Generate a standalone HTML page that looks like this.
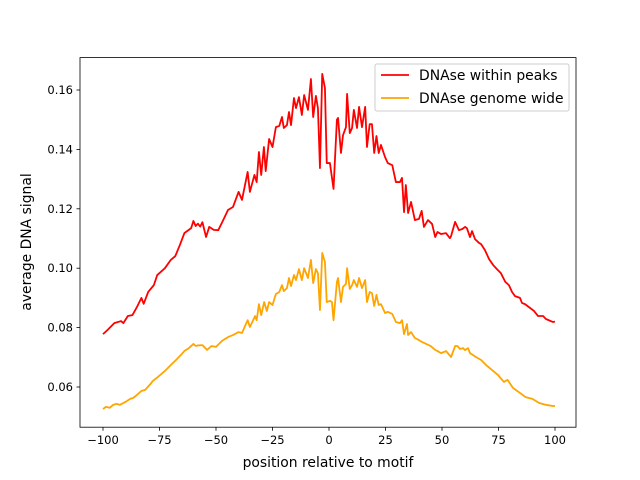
<!DOCTYPE html>
<html><head><meta charset="utf-8"><style>
body{margin:0;background:#fff}
svg{display:block;font-family:"DejaVu Sans","Liberation Sans",sans-serif}
</style></head><body>
<svg id="chart" width="640" height="480">
<rect x="0" y="0" width="640" height="480" fill="#fff"/>
<g id="plot"></g>
<rect x="80" y="57.6" width="496" height="369.6" fill="none" stroke="#000" stroke-width="0.8"/>
<g id="axes"></g>
<text x="328" y="467" font-size="13.9" text-anchor="middle">position relative to motif</text>
<text x="0" y="0" font-size="13.9" text-anchor="middle" transform="translate(31,242) rotate(-90)">average DNA signal</text>
<g>
<rect x="375" y="64" width="194" height="47" rx="2" fill="#fff" fill-opacity="0.8" stroke="#ccc" stroke-width="1"/>
<line x1="381" y1="75" x2="409" y2="75" stroke="#ff0000" stroke-width="1.8"/>
<text x="419" y="80" font-size="13.9">DNAse within peaks</text>
<line x1="381" y1="98" x2="409" y2="98" stroke="#ffa500" stroke-width="1.8"/>
<text x="419" y="103" font-size="13.9">DNAse genome wide</text>
</g>
</svg>
<script>
const xTicks=[-100,-75,-50,-25,0,25,50,75,100];
const yTicks=[0.06,0.08,0.10,0.12,0.14,0.16];
const yTickLabels=["0.06","0.08","0.10","0.12","0.14","0.16"];
const posRed=[-100,-98,-95,-92,-91,-89,-87,-85,-83,-82,-80,-77.5,-76,-72.6,-70,-68,-66,-64,-61,-60,-59,-58,-57,-56,-54.4,-53,-51,-49,-47,-44.7,-42.5,-40,-38.5,-36,-35,-33,-32,-31,-30,-28.8,-28,-26.5,-25,-23.5,-22,-20.8,-20,-18.6,-17.7,-16.8,-15.5,-14.6,-13.3,-12,-11,-9.3,-8,-7,-5.8,-4.9,-4,-3,-1.8,-1,0.4,2,3.5,4,5.3,6.2,7.5,8,9.2,10.2,11,12.4,13.3,14.6,16,16.8,18,19,20,21,22,23,24.8,26,28,29.6,31.4,32.3,33.2,34,35,36.3,38,39.8,41,42,43.8,45.6,47,48,49.6,51.8,53.5,54,55.8,57.5,59,60.2,61,62.4,63.3,64.6,66.4,67.3,69,70.8,72.6,74.3,76,78,79.6,81,82.3,84.5,85.4,86.7,89,90.7,92.5,94.7,96,99,100];
const valRed=[0.0778,0.0792,0.0815,0.0822,0.0815,0.0839,0.0842,0.0869,0.090,0.088,0.092,0.0943,0.0977,0.100,0.1028,0.1041,0.1078,0.1118,0.1135,0.1159,0.1142,0.115,0.114,0.1155,0.1105,0.1139,0.1129,0.1128,0.1159,0.1196,0.1206,0.1257,0.123,0.1324,0.1257,0.1314,0.129,0.1391,0.1314,0.1408,0.1327,0.1435,0.1408,0.1475,0.1479,0.1509,0.1472,0.1482,0.1526,0.1482,0.1573,0.1539,0.1576,0.1516,0.1583,0.1533,0.1637,0.1509,0.158,0.1539,0.1337,0.1654,0.1607,0.1354,0.1354,0.1267,0.150,0.1506,0.1388,0.1448,0.1475,0.1587,0.1455,0.1472,0.1533,0.1472,0.1543,0.1475,0.1543,0.1408,0.1485,0.1485,0.1388,0.1445,0.1388,0.1415,0.1374,0.1354,0.1347,0.129,0.129,0.1304,0.1189,0.128,0.1186,0.1223,0.1162,0.1166,0.1193,0.1139,0.1162,0.1149,0.1105,0.1122,0.1115,0.1118,0.1101,0.1108,0.1156,0.1128,0.1132,0.1139,0.1135,0.1105,0.1125,0.1098,0.1085,0.1081,0.1061,0.1031,0.1011,0.0997,0.0984,0.0954,0.0943,0.092,0.0906,0.090,0.0883,0.0879,0.0866,0.0856,0.0839,0.0839,0.0829,0.0819,0.0820];
const posOrange=[-100,-98.7,-97,-95.5,-94,-92.5,-90,-88,-86.7,-85,-83,-81.4,-79,-78,-75.7,-72.6,-70,-67.7,-65.5,-64,-62,-60,-59,-58,-56,-54,-52,-50,-47.4,-44.7,-42.5,-40,-38.5,-36,-35,-32.7,-32,-31,-30,-28.7,-27.5,-26.5,-25,-23.5,-22,-20.8,-20,-18.6,-17.7,-16.8,-15.5,-14.6,-13.3,-12,-11,-9.3,-8,-7,-5.8,-4.9,-4,-3,-1.8,-1,0.4,1.3,2,3.5,4,5.3,6.2,7.5,8,9.2,10.2,11,12.4,13.3,14.6,16,16.8,18,19,20,21,22,23,24.8,26,28,29.6,31.4,32.3,33.2,34.5,35,36.3,38,39.8,41,43,45,47,48,49.6,51.8,54,55.8,56.8,58,59.3,60.2,61.5,62.4,65,67.3,69.5,71.7,74.8,77.4,79,81.4,84.5,87,90,93,96,99,100];
const valOrange=[0.0526,0.0533,0.053,0.054,0.0543,0.054,0.055,0.056,0.0563,0.0573,0.0587,0.059,0.061,0.062,0.0634,0.0654,0.0674,0.0691,0.0708,0.0721,0.0731,0.0745,0.0738,0.074,0.0741,0.0725,0.0738,0.0735,0.0755,0.0768,0.0775,0.0785,0.0782,0.0825,0.0802,0.0839,0.0825,0.0879,0.0842,0.0886,0.0856,0.0886,0.0876,0.0913,0.092,0.0943,0.0923,0.0933,0.0967,0.094,0.0977,0.096,0.0997,0.096,0.100,0.0967,0.1028,0.095,0.0997,0.0983,0.0859,0.1051,0.1021,0.0886,0.089,0.0886,0.0825,0.0953,0.0967,0.0886,0.0937,0.0947,0.100,0.093,0.0943,0.096,0.0937,0.0967,0.0933,0.096,0.0886,0.092,0.0916,0.0873,0.091,0.0876,0.0879,0.0849,0.0853,0.0846,0.0819,0.0815,0.0825,0.0778,0.0812,0.0775,0.0785,0.0765,0.0758,0.0752,0.0745,0.0738,0.0725,0.0721,0.0714,0.0721,0.0701,0.0738,0.0738,0.0728,0.0731,0.0724,0.0731,0.0714,0.0701,0.0691,0.0674,0.066,0.064,0.0617,0.0624,0.0597,0.058,0.0566,0.056,0.0546,0.054,0.0536,0.0536];

const NS="http://www.w3.org/2000/svg";
function xs(v){return 329+v*2.26;}
function ys(v){return 90+(0.16-v)*2970;}
const plot=document.getElementById('plot');
const axes=document.getElementById('axes');
function mk(tag,attrs,parent){const e=document.createElementNS(NS,tag);for(const k in attrs)e.setAttribute(k,attrs[k]);parent.appendChild(e);return e;}

function series(pos,val,color,name){
  let d='';
  for(let i=0;i<pos.length;i++){d+=(i?'L':'M')+xs(pos[i]).toFixed(2)+','+ys(val[i]).toFixed(2);}
  const p=mk('path',{d:d,fill:'none',stroke:color,'stroke-width':1.8,'stroke-linejoin':'round'},plot);
  
  
}
series(posRed,valRed,'#ff0000','line-dnase-within-peaks');
series(posOrange,valOrange,'#ffa500','line-dnase-genome-wide');

xTicks.forEach(t=>{
  const x=xs(t);
  const l=mk('line',{x1:x,y1:427.2,x2:x,y2:430.7,stroke:'#000','stroke-width':0.8},axes);
  
  
  const tx=mk('text',{x:x,y:444,'font-size':11.5,'text-anchor':'middle'},axes);
  tx.textContent=t<0?'\u2212'+Math.abs(t):String(t);
  
  
});
yTicks.forEach((t,i)=>{
  const y=ys(t);
  const l=mk('line',{x1:76.5,y1:y,x2:80,y2:y,stroke:'#000','stroke-width':0.8},axes);
  
  
  const tx=mk('text',{x:73,y:y+4,'font-size':11.5,'text-anchor':'end'},axes);
  tx.textContent=yTickLabels[i];
  
  
});
</script>
</body></html>
